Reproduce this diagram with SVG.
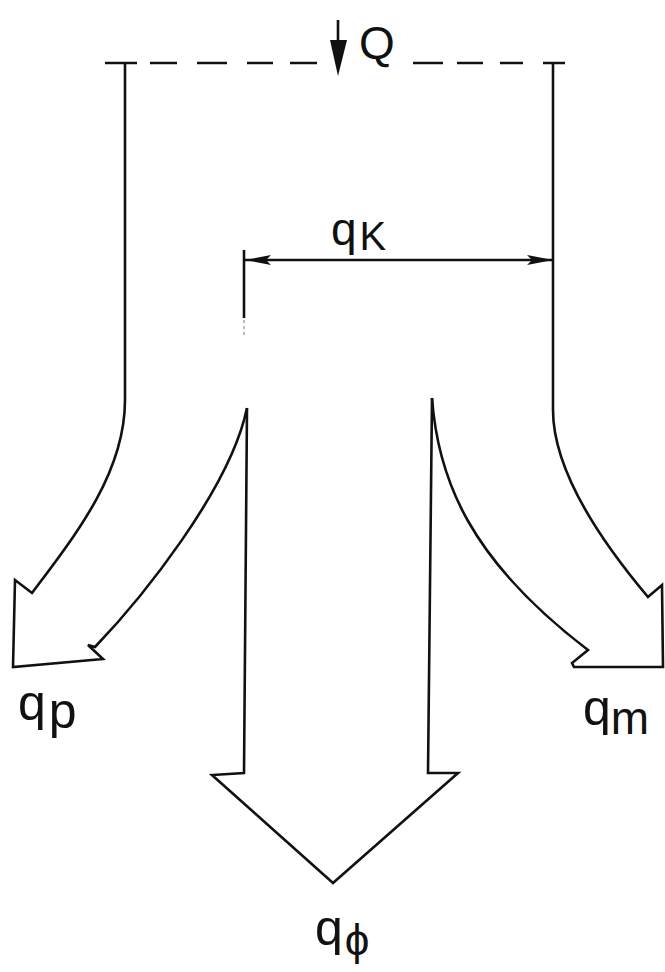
<svg xmlns="http://www.w3.org/2000/svg" width="665" height="972" viewBox="0 0 665 972">
<style>
.ln{fill:none;stroke:#111;stroke-width:2.6;stroke-linejoin:miter;stroke-linecap:butt}
.lbl{font-family:"Liberation Sans",Arial,sans-serif;fill:#111}
</style>
<defs>
<marker id="ah" viewBox="0 0 26 12" refX="26" refY="6" markerWidth="26" markerHeight="12" markerUnits="userSpaceOnUse" orient="auto-start-reverse">
<path d="M0,1 L26,6 L0,11 L5,6 Z" fill="#111"/>
</marker>
</defs>
<rect width="665" height="972" fill="#fff"/>
<g id="boundary">
<path class="ln" d="M105,63 H137 M150,63 H177 M197,63 H227 M247,63 H273 M290,63 H317 M413,63 H443 M457,63 H483 M500,63 H523 M543,63 H565"/>
</g>
<g id="input-Q">
<line class="ln" x1="338" y1="20" x2="338" y2="45"/>
<polygon points="330,40 347,40 338,76" fill="#111"/>
<text class="lbl" x="359" y="59" font-size="46">Q</text>
</g>
<g id="flows">
<path id="flow-p" class="ln" d="M125,63 L125,400 C125,470 80,530 32,593 L15,580 L13,667 L103,659 L88,645 L95,647 C140,600 230,490 247,408"/>
<path id="flow-phi" class="ln" d="M247,408 L244,773 L212,775 L333,883 L458,773 L428,773 L432,398"/>
<path id="flow-m" class="ln" d="M432,398 C438,480 470,560 588,650 L572,663 L574,667 L663,667 L662,585 L648,597 C600,540 553,470 553,410 L553,63"/>
</g>
<g id="dimension-qK">
<line class="ln" x1="244" y1="250" x2="244" y2="318"/>
<line x1="244" y1="320" x2="244" y2="336" stroke="#bbb" stroke-width="2" stroke-dasharray="3,3"/>
<line class="ln" x1="245" y1="260" x2="553" y2="260" marker-start="url(#ah)" marker-end="url(#ah)"/>
<text class="lbl" x="331" y="245" font-size="46">q<tspan font-size="40" dx="3" dy="5">K</tspan></text>
</g>
<g id="label-qp"><text class="lbl" x="18" y="720" font-size="50">q<tspan dx="3" dy="8">p</tspan></text></g>
<g id="label-qm"><text class="lbl" x="583" y="725" font-size="50">q<tspan font-size="46" dx="0" dy="9">m</tspan></text></g>
<g id="label-qphi"><text class="lbl" x="315" y="945" font-size="50">q<tspan font-size="44" dx="2" dy="10">ϕ</tspan></text></g>
</svg>
